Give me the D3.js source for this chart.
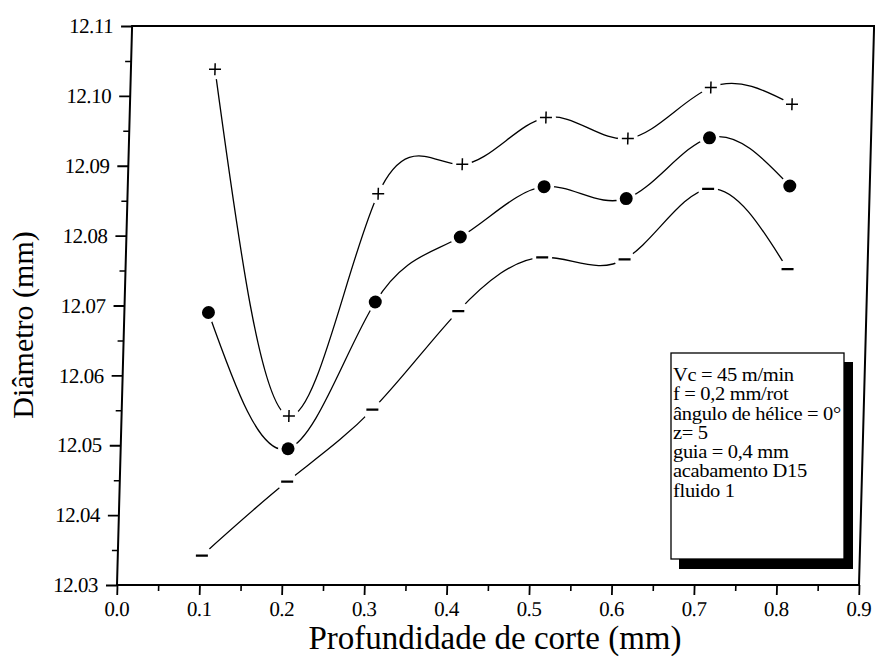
<!DOCTYPE html>
<html>
<head>
<meta charset="utf-8">
<script src="https://cdn.jsdelivr.net/npm/d3@7/dist/d3.min.js"></script>
<style>
  html, body { margin: 0; padding: 0; background: #fff; }
  svg { display: block; }
  text { font-family: "Liberation Serif", "Times New Roman", serif; fill: #000; }
</style>
</head>
<body>
<svg id="chart" width="875" height="663"></svg>
<script>
// ---- data ----
const depth = [0.102, 0.203, 0.304, 0.405, 0.505, 0.605, 0.704, 0.803];
const seriesPlus = [12.1038, 12.0542, 12.0860, 12.0902, 12.0969, 12.0939, 12.1012, 12.0988];
const seriesDot  = [12.0690, 12.0495, 12.0705, 12.0798, 12.0870, 12.0853, 12.0940, 12.0871];
const seriesDash = [12.0342, 12.0448, 12.0551, 12.0692, 12.0769, 12.0766, 12.0867, 12.0752];
const xTicks = [0.0, 0.1, 0.2, 0.3, 0.4, 0.5, 0.6, 0.7, 0.8, 0.9];
const yTicks = [12.03, 12.04, 12.05, 12.06, 12.07, 12.08, 12.09, 12.10, 12.11];
const xTitle = "Profundidade de corte (mm)";
const yTitle = "Diâmetro (mm)";
const legendLines = ["Vc = 45 m/min", "f = 0,2 mm/rot", "ângulo de hélice = 0°", "z= 5",
                     "guia = 0,4 mm", "acabamento D15", "fluido 1"];

// ---- layout ----
const svg = d3.select("#chart");
const pL = 117, pR = 859, pT = 26, pB = 585;
const shear = 0.027; // scanned page is slightly sheared
const shearDeg = Math.atan(shear) * 180 / Math.PI;

const x = d3.scaleLinear().domain([0, 0.9]).range([pL, pR]);
const y = d3.scaleLinear().domain([12.03, 12.11]).range([pB, pT]);

const g = svg.append("g")
  .attr("transform", `translate(0,${pB}) skewX(${-shearDeg}) translate(0,${-pB})`);

// minor ticks
const xMinor = d3.range(0, 0.9001, 0.05).filter(v => Math.abs(Math.round(v * 10) - v * 10) > 1e-6);
const yMinor = d3.range(12.03, 12.1101, 0.005).filter(v => Math.abs(Math.round(v * 100) - v * 100) > 1e-6);

g.append("g").attr("transform", `translate(0,${pB})`)
  .call(d3.axisBottom(x).tickValues(xMinor).tickSize(6).tickFormat(""))
  .call(a => a.select(".domain").remove())
  .call(a => a.selectAll("line").attr("stroke-width", 1.6));
g.append("g").attr("transform", `translate(${pL},0)`)
  .call(d3.axisLeft(y).tickValues(yMinor).tickSize(6).tickFormat(""))
  .call(a => a.select(".domain").remove())
  .call(a => a.selectAll("line").attr("stroke-width", 1.6));

// major axes
const xAxis = g.append("g").attr("transform", `translate(0,${pB})`)
  .call(d3.axisBottom(x).tickValues(xTicks).tickSize(10).tickPadding(6).tickFormat(d3.format(".1f")));
const yAxis = g.append("g").attr("transform", `translate(${pL},0)`)
  .call(d3.axisLeft(y).tickValues(yTicks).tickSize(11).tickPadding(8).tickFormat(d3.format(".2f")));
[xAxis, yAxis].forEach(a => {
  a.select(".domain").remove();
  a.selectAll("line").attr("stroke-width", 1.8);
  a.selectAll("text").style("font-family", '"Liberation Serif", serif').style("font-size", "21px")
    .attr("fill", "#000").attr("letter-spacing", "-0.5px");
});
// frame
g.append("rect").attr("x", pL).attr("y", pT).attr("width", pR - pL).attr("height", pB - pT)
  .attr("fill", "none").attr("stroke", "#000").attr("stroke-width", 2);

// curves
const line = d3.line().x(d => x(d[0])).y(d => y(d[1])).curve(d3.curveNatural);
const all = [seriesPlus, seriesDot, seriesDash];
all.forEach(s => {
  g.append("path").datum(depth.map((d, i) => [d, s[i]]))
    .attr("d", line).attr("fill", "none").attr("stroke", "#000").attr("stroke-width", 1.3);
});
// gaps around markers
all.forEach(s => {
  g.append("g").selectAll("circle").data(depth.map((d, i) => [d, s[i]])).join("circle")
    .attr("cx", d => x(d[0])).attr("cy", d => y(d[1])).attr("r", 10).attr("fill", "#fff");
});
// markers
g.append("g").selectAll("path").data(depth.map((d, i) => [d, seriesPlus[i]])).join("path")
  .attr("d", d => `M${x(d[0]) - 6},${y(d[1])}h12M${x(d[0])},${y(d[1]) - 6}v12`)
  .attr("stroke", "#000").attr("stroke-width", 1.5).attr("fill", "none");
g.append("g").selectAll("circle").data(depth.map((d, i) => [d, seriesDot[i]])).join("circle")
  .attr("cx", d => x(d[0])).attr("cy", d => y(d[1])).attr("r", 6.5).attr("fill", "#000");
g.append("g").selectAll("path").data(depth.map((d, i) => [d, seriesDash[i]])).join("path")
  .attr("d", d => `M${x(d[0]) - 6},${y(d[1])}h12`)
  .attr("stroke", "#000").attr("stroke-width", 2.2).attr("fill", "none");

// axis titles
svg.append("text").attr("x", 495).attr("y", 649).attr("text-anchor", "middle")
  .style("font-size", "33px").text(xTitle);
svg.append("text").attr("transform", "translate(33,325) rotate(-90)").attr("text-anchor", "middle")
  .style("font-size", "30px").text(yTitle);

// legend box with shadow
const lg = svg.append("g");
lg.append("rect").attr("x", 679).attr("y", 362).attr("width", 174).attr("height", 207).attr("fill", "#000");
lg.append("rect").attr("x", 671).attr("y", 353).attr("width", 173).attr("height", 206)
  .attr("fill", "#fff").attr("stroke", "#000").attr("stroke-width", 1.3);
const lt = lg.append("g").attr("transform", "translate(673,0) scale(1.08,1)");
lt.selectAll("text").data(legendLines).join("text")
  .attr("x", 0).attr("y", (d, i) => 381 + i * 19.3)
  .attr("letter-spacing", "-0.3px")
  .style("font-size", "19px").text(d => d);
</script>
</body>
</html>
